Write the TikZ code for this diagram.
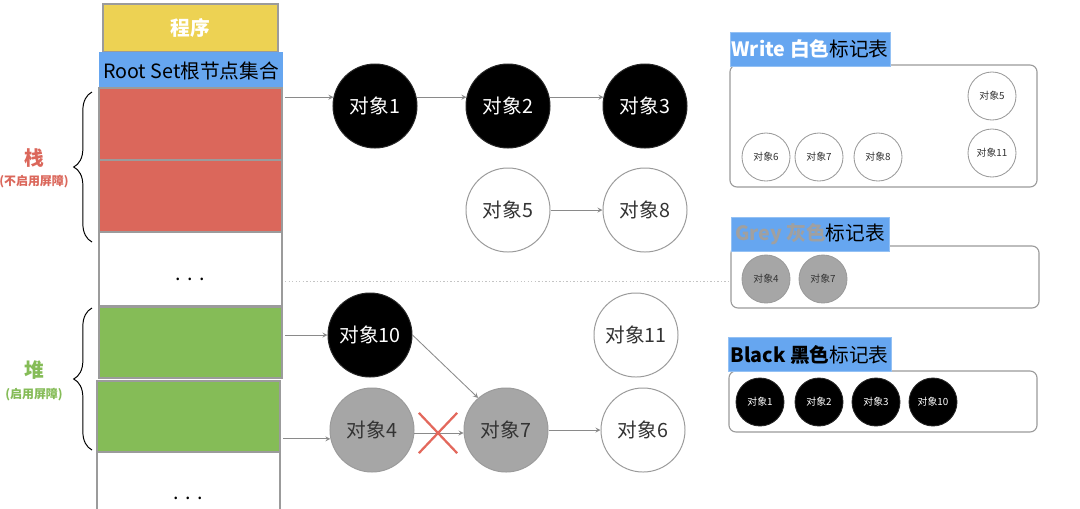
\documentclass[tikz,border=0pt]{standalone}
\usepackage{fontspec}
\setmainfont{Noto Sans CJK SC}
\usepackage{xcolor}
\usepackage{tikz}
\usetikzlibrary{arrows,shapes.misc,decorations.pathreplacing}
\definecolor{progyel}{HTML}{EDD253}
\definecolor{rootblue}{HTML}{66A6F0}
\definecolor{stackred}{HTML}{DB675B}
\definecolor{heapgreen}{HTML}{85BC57}
\definecolor{edge}{HTML}{9B9B9B}
\definecolor{wire}{HTML}{8A8A8A}
\definecolor{greyobj}{HTML}{A6A6A6}
\definecolor{greytxt}{HTML}{A0A0A0}
\definecolor{cutred}{HTML}{E3685C}
\definecolor{dotln}{HTML}{C4C4C4}
\definecolor{ink}{HTML}{333333}
\newcommand{\fsz}[1]{\fontsize{#1}{#1}\selectfont}
\newcommand{\lowdots}[1]{\raisebox{#1}[0pt][0pt]{.\,\,.\,\,.}}
\tikzset{
  cell/.style={draw=edge,line width=0.8pt,minimum width=4.575cm,inner sep=0pt},
  obj/.style={circle,draw=edge,line width=0.7pt,minimum size=2.1cm,inner sep=0pt,font=\fsz{14}},
  blk/.style={obj,fill=black,draw=black!85,text=white},
  gry/.style={obj,fill=greyobj,text=ink},
  wht/.style={obj,fill=white,text=ink},
  mini/.style={circle,draw=edge,line width=0.6pt,minimum size=1.2cm,inner sep=0pt,font=\fsz{7}},
  mblk/.style={mini,fill=black,draw=black!85,text=white},
  mgry/.style={mini,fill=greyobj,text=ink},
  mwht/.style={mini,fill=white,text=ink},
  panel/.style={draw=edge,line width=0.8pt,rounded corners=5pt,fill=white},
  tag/.style={fill=rootblue,draw=rootblue!70!white,minimum height=0.85cm,inner sep=1pt,font=\fsz{14}},
  ar/.style={->,>=stealth,draw=wire,line width=0.6pt},
  brc/.style={decorate,decoration={brace,amplitude=13pt},draw=black,line width=0.7pt},
  side/.style={font=\fsz{14}\bfseries,inner sep=0pt},
  sidesub/.style={font=\fsz{8.5}\bfseries,inner sep=0pt},
}

\begin{document}
\begin{tikzpicture}[x=0.025cm,y=-0.025cm]
\fill[white] (0,0) rectangle (1080,508);
\useasboundingbox (0,0) rectangle (1080,508);

% ---- program and root set ----
\node[cell,fill=progyel,minimum width=4.375cm,minimum height=1.2cm,text=white,font=\fsz{14}\bfseries] (prog) at (190.5,28) {程序};
\node[cell,fill=rootblue,draw=rootblue,minimum width=4.55cm,minimum height=0.875cm,font=\fsz{14}] (root) at (191,70.5) {Root Set根节点集合};

% ---- stack cells ----
\node[cell,fill=stackred,minimum height=1.8cm] (s1) at (190.5,124) {};
\node[cell,fill=stackred,minimum height=1.8cm] (s2) at (190.5,196) {};
\node[cell,fill=white,minimum height=1.85cm,font=\fsz{14}] (dots1) at (190.5,269) {\lowdots{-8pt}};

% ---- heap cells ----
\node[cell,fill=heapgreen,minimum height=1.775cm] (h1) at (190.5,342.5) {};
\node[cell,fill=heapgreen,minimum height=1.775cm] (h2) at (188.5,416.5) {};
\node[cell,fill=white,minimum height=2.25cm,font=\fsz{14}] (dots2) at (188.5,497) {\lowdots{-2pt}};

% ---- braces ----
\draw[brc] (92,242) -- (92,92);
\draw[brc] (92,450) -- (92,308);
\node[side,text=stackred] (stk) at (34,158) {栈};
\node[sidesub,text=stackred] (stksub) at (34,182) {(不启用屏障)};
\node[side,text=heapgreen] (hp) at (34,370) {堆};
\node[sidesub,text=heapgreen] (hpsub) at (34,395) {(启用屏障)};

% ---- object graph ----
\node[blk] (o1) at (375,106) {对象1};
\node[blk] (o2) at (508,106) {对象2};
\node[blk] (o3) at (645,106) {对象3};
\node[wht] (o5) at (508,210) {对象5};
\node[wht] (o8) at (645,210) {对象8};
\node[blk] (o10) at (370,335) {对象10};
\node[wht] (o11) at (636,335) {对象11};
\node[gry] (o4) at (372,430) {对象4};
\node[gry] (o7) at (506,430) {对象7};
\node[wht] (o6) at (643,430) {对象6};

\draw[ar,shorten <=2pt] (s1.east |- o1.168) -- (o1.168);
\draw[ar] (o1.12) -- (o2.168);
\draw[ar] (o2.12) -- (o3.168);
\draw[ar] (o5.east) -- (o8.west);
\draw[ar,shorten <=2pt] (h1.east |- o10.west) -- (o10.west);
\draw[ar,shorten <=2pt] (h2.east |- o4.192) -- (o4.192);
\draw[ar] (o10.east) -- (o7.131);
\draw[ar] (o4.356) -- (o7.184);
\draw[ar] (o7.east) -- (o6.west);
\node[cross out,draw=cutred,line width=1.6pt,minimum width=0.9cm,minimum height=0.95cm,inner sep=0pt] (cut) at (438,433) {};

% ---- mark tables ----
\node[panel,minimum width=7.675cm,minimum height=3.05cm] (wp) at (883.5,126) {};
\node[panel,minimum width=7.7cm,minimum height=1.55cm] (gp) at (885,277) {};
\node[panel,minimum width=7.7cm,minimum height=1.525cm] (bp) at (883,401.5) {};

\node[tag,minimum width=4cm] (wlab) at (810,49) {\textcolor{white}{\bfseries Write 白色}标记表};
\node[tag,minimum width=3.95cm] (glab) at (810,234.5) {\textcolor{greytxt}{\bfseries Grey 灰色}标记表};
\node[tag,minimum width=4.075cm] (blab) at (809.5,354.5) {{\bfseries Black 黑色}标记表};

\node[mwht] (w5) at (992,96) {对象5};
\node[mwht] (w11) at (992,153) {对象11};
\node[mwht] (w6) at (766,157) {对象6};
\node[mwht] (w7) at (819,157) {对象7};
\node[mwht] (w8) at (878,157) {对象8};

\node[mgry] (g4) at (766,279) {对象4};
\node[mgry] (g7) at (823,279) {对象7};

\node[mblk] (b1) at (760,402) {对象1};
\node[mblk] (b2) at (819,402) {对象2};
\node[mblk] (b3) at (876,402) {对象3};
\node[mblk] (b10) at (933,402) {对象10};

% ---- stack/heap divide ----
\coordinate (split) at (285,281);
\draw[draw=dotln,line width=0.6pt,dash pattern=on 1pt off 1.5pt] (split) -- (split -| gp.west);

\end{tikzpicture}
\end{document}
